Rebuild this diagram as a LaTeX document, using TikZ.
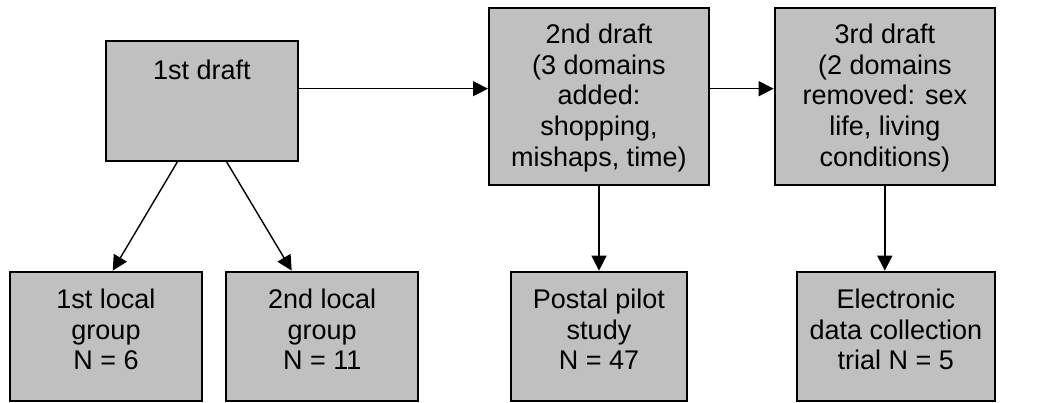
\documentclass[tikz,border=0pt]{standalone}
\usepackage{fontspec}
\setmainfont{Liberation Sans}
\usetikzlibrary{arrows.meta}
\definecolor{boxgray}{HTML}{C0C0C0}
\begin{document}
\begin{tikzpicture}[x=1pt,y=-1pt,
  box/.style={draw=black, line width=2pt, fill=boxgray, inner sep=0pt},
  lbl/.style={anchor=north, inner sep=0pt, align=center, font=\fontsize{27}{30.7}\selectfont},
  conn/.style={line width=1.4pt, -{Triangle[length=15pt,width=15pt]}}]
\useasboundingbox (0,0) rectangle (1051,403);
% boxes
\node[box, minimum width=192.6pt, minimum height=120pt] (d1) at (202,101) {};
\node[box, minimum width=220pt, minimum height=177.3pt] (d2) at (599,96.7) {};
\node[box, minimum width=220.3pt, minimum height=177.3pt] (d3) at (884.8,96.7) {};
\node[box, minimum width=192.6pt, minimum height=129.3pt] (g1) at (106,336.3) {};
\node[box, minimum width=192.3pt, minimum height=129.3pt] (g2) at (322.2,336.3) {};
\node[box, minimum width=176pt, minimum height=129.3pt] (pp) at (599,336.3) {};
\node[box, minimum width=198.3pt, minimum height=129.3pt] (el) at (895.8,336.3) {};
% texts
\node[lbl] (t1) at (202,59.3) {1st draft};
\node[lbl] (t2) at (599,23.6) {2nd draft\\(3 domains\\added:\\shopping,\\mishaps, time)};
\node[lbl] (t3) at (884.8,23.6) {3rd draft\\(2 domains\\removed: sex\\life, living\\conditions)};
\node[lbl] (t4) at (106,288.6) {1st local\\group\\N = 6};
\node[lbl] (t5) at (322.2,288.6) {2nd local\\group\\N = 11};
\node[lbl] (t6) at (599,288.6) {Postal pilot\\study\\N = 47};
\node[lbl] (t7) at (895.8,288.6) {Electronic\\data collection\\trial N = 5};
% connectors
\draw[conn] ([yshift=12.3pt]d1.east) -- ([yshift=12.3pt]d1.east -| d2.west);
\draw[conn] ([yshift=8pt]d2.east) -- ([yshift=8pt]d3.west);
\draw[conn] ([xshift=-24.7pt]d1.south) -- ([xshift=6.7pt]g1.north);
\draw[conn] ([xshift=24.7pt]d1.south) -- ([xshift=-30.5pt]g2.north);
\draw[conn] (d2.south) -- (pp.north);
\draw[conn] (d3.south) -- (d3.south |- el.north);
\end{tikzpicture}
\end{document}
